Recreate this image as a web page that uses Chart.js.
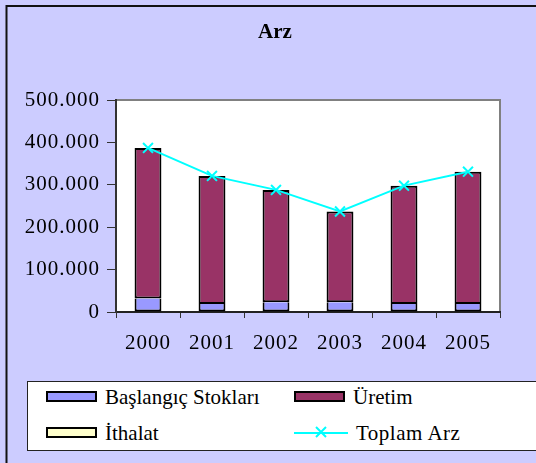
<!DOCTYPE html>
<html lang="tr">
<head>
<meta charset="UTF-8">
<title>Arz</title>
<script src="https://cdn.jsdelivr.net/npm/chart.js"></script>
<style>
    body {
        margin: 0;
        padding: 0;
        background: #CCCCFF;
        font-family: "Liberation Serif", "Times New Roman", serif;
    }
    .wrap {
        position: relative;
        width: 536px;
        height: 463px;
        overflow: hidden;
    }
    canvas { position: absolute; left: 0; top: 0; }
    .legend {
        position: absolute;
        left: 27px;
        top: 381px;
        width: 520px;
        height: 68px;
        background: #fff;
        border: 1px solid #222;
        font-size: 21px;
        color: #000;
    }
    .item {
        position: absolute;
        height: 24px;
        line-height: 24px;
        white-space: nowrap;
    }
    .swatch {
        position: absolute;
        left: 0;
        top: 6px;
        width: 47px;
        height: 7px;
        border: 2px solid #000;
    }
    .item span.txt { position: absolute; left: 59px; top: 0; }
    .item svg { position: absolute; left: 0; top: 0; }
</style>
</head>
<body>
<div class="wrap">
    <canvas id="arzChart" width="536" height="463"></canvas>
    <div class="legend" id="legend"></div>
</div>

<script>
    // Veriler
    const years = ['2000', '2001', '2002', '2003', '2004', '2005'];
    const stocks = [32000, 19000, 23000, 23000, 19000, 19000];       // Başlangıç Stokları
    const production = [355000, 302000, 265000, 214000, 279000, 312000]; // Üretim
    const imports = [0, 0, 0, 0, 0, 0];                              // İthalat
    const totals = [387000, 321000, 288000, 237000, 298000, 331000]; // Toplam Arz
    const yTicks = [0, 100000, 200000, 300000, 400000, 500000];

    const FONT = 'Liberation Serif';

    function fmt(v) {
        return String(v).replace(/\B(?=(\d{3})+(?!\d))/g, '.');
    }

    // Arka plan, çerçeve ve başlık
    const frame = {
        id: 'frame',
        beforeDraw(chart) {
            const c = chart.ctx;
            const a = chart.chartArea;
            c.save();
            c.fillStyle = '#CCCCFF';
            c.fillRect(0, 0, chart.width, chart.height);
            c.strokeStyle = '#111';
            c.lineWidth = 2;
            c.beginPath();
            c.moveTo(6.5, chart.height);
            c.lineTo(6.5, 6);
            c.lineTo(chart.width, 6);
            c.stroke();
            c.fillStyle = '#fff';
            c.fillRect(a.left, a.top, a.right - a.left, a.bottom - a.top);
            c.strokeStyle = '#808080';
            c.lineWidth = 2;
            c.beginPath();
            c.moveTo(a.left, a.top);
            c.lineTo(a.right, a.top);
            c.lineTo(a.right, a.bottom);
            c.stroke();
            c.fillStyle = '#000';
            c.font = 'bold 21px ' + FONT;
            c.textAlign = 'center';
            c.textBaseline = 'middle';
            c.fillText('Arz', 275, 33);
            c.restore();
            // eksen yazıları biraz aralıklı (Excel görünümü)
            c.letterSpacing = '1px';
        }
    };

    function draw() {
        new Chart(document.getElementById('arzChart'), {
            type: 'bar',
            data: {
                labels: years,
                datasets: [
                    {
                        label: 'Başlangıç Stokları', data: stocks, backgroundColor: '#9999FF',
                        borderColor: '#000', borderWidth: { top: 0, bottom: 2, left: 2, right: 2 },
                        borderSkipped: false, order: 1
                    },
                    {
                        label: 'Üretim', data: production, backgroundColor: '#993366',
                        borderColor: '#000', borderWidth: 2, borderSkipped: false, order: 1
                    },
                    {
                        label: 'İthalat', data: imports, backgroundColor: '#FFFFCC',
                        borderColor: '#000', borderWidth: 0, order: 1
                    },
                    {
                        type: 'line', label: 'Toplam Arz', data: totals, stack: 'toplam',
                        borderColor: '#00FFFF', borderWidth: 2, fill: false, tension: 0,
                        pointStyle: 'crossRot', pointRadius: 7, pointBorderWidth: 2,
                        pointBorderColor: '#00FFFF', pointBackgroundColor: '#00FFFF', order: 0
                    }
                ]
            },
            options: {
                responsive: false,
                animation: false,
                layout: { padding: { left: 0, top: 100, right: 36, bottom: 111 } },
                datasets: { bar: { barPercentage: 0.42, categoryPercentage: 1.0 } },
                plugins: {
                    legend: { display: false },
                    title: { display: false },
                    tooltip: { enabled: false }
                },
                scales: {
                    x: {
                        stacked: true,
                        offset: true,
                        afterFit(scale) { scale.height = 40; },
                        grid: { offset: true, drawOnChartArea: false, drawTicks: true, tickLength: 6, color: '#333', lineWidth: 1 },
                        border: { color: '#222', width: 2 },
                        ticks: { color: '#000', padding: 13, font: { family: FONT, size: 21 } }
                    },
                    y: {
                        stacked: true,
                        min: 0,
                        max: 500000,
                        afterFit(scale) { scale.width = 116; },
                        afterBuildTicks(scale) { scale.ticks = yTicks.map(v => ({ value: v })); },
                        grid: { drawOnChartArea: false, drawTicks: true, tickLength: 9, color: '#333', lineWidth: 1 },
                        border: { color: '#333', width: 2 },
                        ticks: {
                            color: '#000', padding: 7, font: { family: FONT, size: 21 },
                            callback: v => fmt(v)
                        }
                    }
                }
            },
            plugins: [frame]
        });
    }

    // Lejant
    const legendItems = [
        { text: 'Başlangıç Stokları', color: '#9999FF', x: 18, y: 3 },
        { text: 'Üretim', color: '#993366', x: 266, y: 3 },
        { text: 'İthalat', color: '#FFFFCC', x: 18, y: 39 },
        { text: 'Toplam Arz', line: '#00FFFF', x: 266, y: 39 }
    ];
    const legend = document.getElementById('legend');
    legendItems.forEach(it => {
        const d = document.createElement('div');
        d.className = 'item';
        d.style.left = it.x + 'px';
        d.style.top = it.y + 'px';
        if (it.line) {
            d.innerHTML = '<svg width="56" height="24"><line x1="0" y1="12" x2="54" y2="12" stroke="' + it.line + '" stroke-width="2"/>' +
                '<path d="M22 6 L32 16 M32 6 L22 16" stroke="' + it.line + '" stroke-width="2"/></svg>' +
                '<span class="txt" style="left:62px;letter-spacing:0.5px">' + it.text + '</span>';
        } else {
            d.innerHTML = '<div class="swatch" style="background:' + it.color + '"></div><span class="txt">' + it.text + '</span>';
        }
        legend.appendChild(d);
    });

    // Yazı tipi yüklendikten sonra çiz
    if (document.fonts && document.fonts.load) {
        Promise.all([
            document.fonts.load('21px "Liberation Serif"'),
            document.fonts.load('bold 21px "Liberation Serif"')
        ]).then(draw, draw);
    } else {
        draw();
    }
</script>
</body>
</html>
